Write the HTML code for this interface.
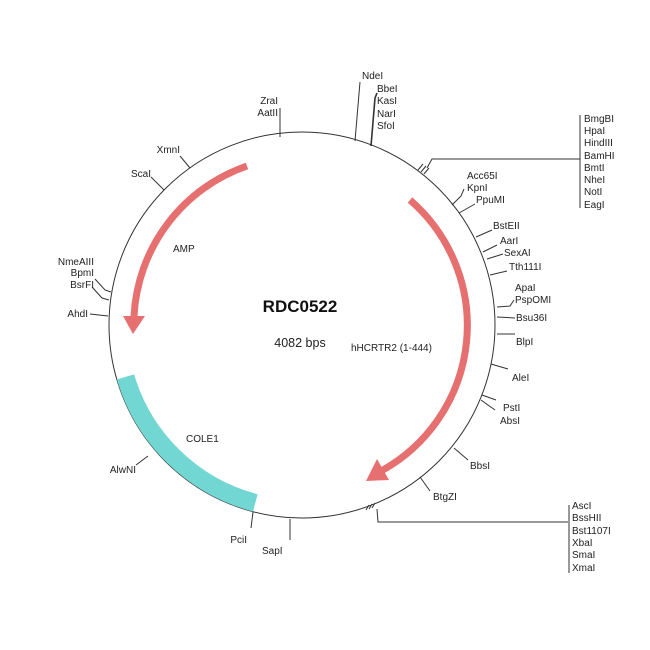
<!DOCTYPE html>
<html><head><meta charset="utf-8"><style>
html,body{margin:0;padding:0;background:#fff;}
svg{display:block;}
text{font-family:"Liberation Sans",sans-serif;font-size:10px;fill:#222;}
</style></head><body>
<svg width="650" height="650" viewBox="0 0 650 650">
<g fill="none" stroke="#333" stroke-width="1">
<circle cx="302" cy="325" r="193"/>
<!-- ticks -->
<path d="M280,137 L280,108"/>
<path d="M190,168 L180,156"/>
<path d="M164,190 L151,177"/>
<path d="M111,292 L105,290 L95,279"/>
<path d="M109,300 L102,298 L92,287"/>
<path d="M108,316 L90,314"/>
<path d="M148,456 L136,465"/>
<path d="M253,512 L251,528"/>
<path d="M290,519 L290,540"/>
<path d="M355,141 L360,82"/>
<path d="M371,146 L375,98 L377,93" stroke-width="1.6"/>
<path d="M418,170 L423,164 M421,172 L426,166 M424,174 L429,168"/>
<path d="M427,168 L432,159 L580,159"/>
<path d="M580,115 L580,208"/>
<path d="M452,205 L461,196 L464,189"/>
<path d="M459,213 L475,204"/>
<path d="M476,237 L492,230"/>
<path d="M483,252 L497,245"/>
<path d="M487,259 L503,254"/>
<path d="M490,275 L507,271"/>
<path d="M497,307 L510,306 L514,300"/>
<path d="M497,317 L515,318"/>
<path d="M497,334 L515,334"/>
<path d="M491,364 L508,369"/>
<path d="M482,395 L496,400"/>
<path d="M481,400 L495,410"/>
<path d="M454,448 L468,460"/>
<path d="M420,477 L430,491"/>
<path d="M366,510 L369,505 M369,509 L372,504 M372,508 L375,503"/>
<path d="M377,509 L378,522 L568,522"/>
<path d="M569,505 L569,573"/>
</g>
<!-- features -->
<path d="M247,166 A168,168 0 0 0 134,316" fill="none" stroke="#e66f6f" stroke-width="7"/>
<polygon points="123,316 145,316 133,334" fill="#e66f6f"/>
<path d="M410,200 A166,166 0 0 1 383,470" fill="none" stroke="#e66f6f" stroke-width="7"/>
<polygon points="389,480 377,459 366,481" fill="#e66f6f"/>
<path d="M125.5,376.9 A184,184 0 0 0 255.3,502.9" fill="none" stroke="#72d6d2" stroke-width="18"/>
<!-- center -->
<text x="300" y="312" text-anchor="middle" style="font-size:17px;font-weight:bold;fill:#111">RDC0522</text>
<text x="300" y="347" text-anchor="middle" style="font-size:12.5px">4082 bps</text>
<text x="173" y="252">AMP</text>
<text x="351" y="351">hHCRTR2 (1-444)</text>
<text x="186" y="442">COLE1</text>
<!-- labels left -->
<text x="278" y="104" text-anchor="end">ZraI</text>
<text x="278" y="116" text-anchor="end">AatII</text>
<text x="180" y="153" text-anchor="end">XmnI</text>
<text x="151" y="177" text-anchor="end">ScaI</text>
<text x="94" y="265" text-anchor="end">NmeAIII</text>
<text x="94" y="276" text-anchor="end">BpmI</text>
<text x="94" y="288" text-anchor="end">BsrFI</text>
<text x="88" y="317" text-anchor="end">AhdI</text>
<text x="136" y="473" text-anchor="end">AlwNI</text>
<text x="247" y="543" text-anchor="end">PciI</text>
<text x="262" y="554">SapI</text>
<!-- top -->
<text x="362" y="79">NdeI</text>
<text x="377" y="92">BbeI</text>
<text x="377" y="104">KasI</text>
<text x="377" y="117">NarI</text>
<text x="377" y="129">SfoI</text>
<text x="584" y="122">BmgBI</text>
<text x="584" y="134">HpaI</text>
<text x="584" y="146">HindIII</text>
<text x="584" y="159">BamHI</text>
<text x="584" y="171">BmtI</text>
<text x="584" y="183">NheI</text>
<text x="584" y="195">NotI</text>
<text x="584" y="208">EagI</text>
<!-- right -->
<text x="467" y="179">Acc65I</text>
<text x="467" y="191">KpnI</text>
<text x="476" y="203">PpuMI</text>
<text x="493" y="229">BstEII</text>
<text x="500" y="244">AarI</text>
<text x="504" y="256">SexAI</text>
<text x="509" y="270">Tth111I</text>
<text x="515" y="291">ApaI</text>
<text x="515" y="303">PspOMI</text>
<text x="516" y="321">Bsu36I</text>
<text x="516" y="345">BlpI</text>
<text x="512" y="381">AleI</text>
<text x="503" y="411">PstI</text>
<text x="500" y="424">AbsI</text>
<text x="470" y="469">BbsI</text>
<text x="433" y="500">BtgZI</text>
<text x="572" y="509">AscI</text>
<text x="572" y="521">BssHII</text>
<text x="572" y="534">Bst1107I</text>
<text x="572" y="546">XbaI</text>
<text x="572" y="558">SmaI</text>
<text x="572" y="571">XmaI</text>
</svg>
</body></html>
